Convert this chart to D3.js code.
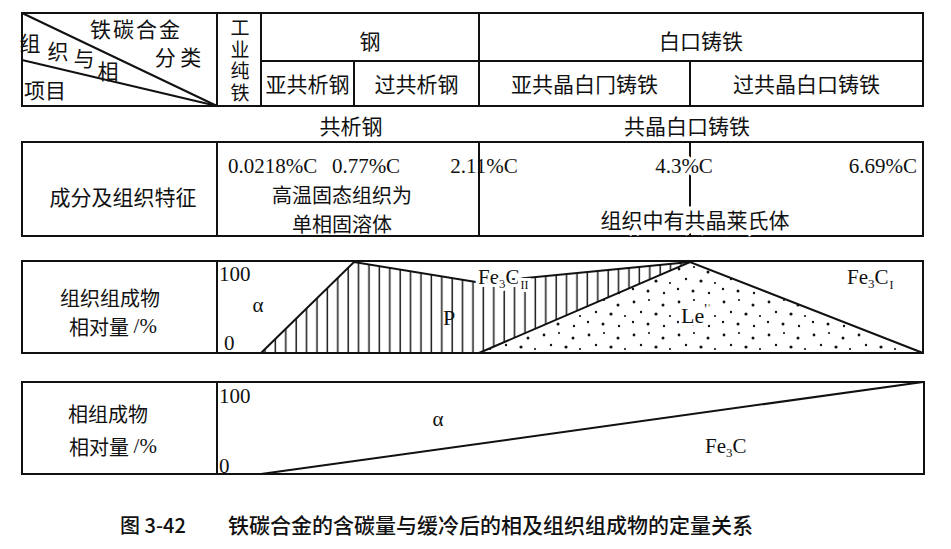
<!DOCTYPE html>
<html>
<head>
<meta charset="utf-8">
<script src="https://cdn.jsdelivr.net/npm/d3@7"></script>
<style>
  body { margin: 0; background: #fff; }
</style>
</head>
<body>
<script>
// carbon content marks (%C) used across the figure
const carbonPoints = [0.0218, 0.77, 2.11, 4.3, 6.69];
const carbonLabels = ["0.0218%C", "0.77%C", "2.11%C", "4.3%C", "6.69%C"];
const steelGroups = ["钢", "白口铸铁"];
const alloyTypes = ["亚共析钢", "过共析钢", "亚共晶白冂铸铁", "过共晶白口铸铁"];
const eutecticNames = ["共析钢", "共晶白口铸铁"];
const eutecticCarbon = [0.77, 4.3];

// relative amount of structure constituents at carbonPoints (%)
const ledeburite = [0, 0, 0, 100, 0];
const pearlite = [0, 100, 77.4, 0, 0];
const cementiteII = [0, 0, 22.6, 0, 0];
const cementiteI = [0, 0, 0, 0, 100];
const ferriteOrg = [100, 0, 0, 0, 0];

// relative amount of phases (%)
const phaseCarbon = [0.0218, 6.69];
const ferritePhase = [100, 0];
const cementitePhase = [0, 100];

const yTicks = [0, 100];

const width = 951;
const height = 549;
const left = 22;
const divX = 217;
const ink = "#111";
const CJK = "'Noto Sans CJK SC', 'Noto Sans CJK TC', sans-serif";
const SERIF = "'Liberation Serif', 'DejaVu Serif', serif";

const svg = d3
  .select("body")
  .append("svg")
  .attr("width", width)
  .attr("height", height)
  .attr("viewBox", `0 0 ${width} ${height}`);

// the figure stretches the low-carbon end, so the scale is polylinear
const x = d3
  .scaleLinear()
  .domain(carbonPoints)
  .range([261, 354, 479, 690, 923]);

const yOrg = d3.scaleLinear().domain([0, 100]).range([353, 262]);
const yPhase = d3.scaleLinear().domain([0, 100]).range([474, 382]);

// ---- patterns
const defs = svg.append("defs");

const hatch = defs
  .append("pattern")
  .attr("id", "hatch")
  .attr("patternUnits", "userSpaceOnUse")
  .attr("width", 10.4)
  .attr("height", 10);
hatch
  .append("line")
  .attr("x1", 5)
  .attr("x2", 5)
  .attr("y1", 0)
  .attr("y2", 10)
  .attr("stroke", "#1a1a1a")
  .attr("stroke-width", 1.5);

const dotTile = [
  [4, 5, 1.4], [19, 3, 1.1], [33, 8, 1.5],
  [11, 15, 1.2], [26, 17, 1.6], [40, 19, 1.1],
  [3, 25, 1.2], [18, 27, 1.5], [34, 29, 1.2],
];
const dots = defs
  .append("pattern")
  .attr("id", "dots")
  .attr("patternUnits", "userSpaceOnUse")
  .attr("width", 45)
  .attr("height", 33);
dots
  .selectAll("circle")
  .data(dotTile)
  .join("circle")
  .attr("cx", (d) => d[0])
  .attr("cy", (d) => d[1])
  .attr("r", (d) => d[2])
  .attr("fill", "#111");

// ---- helpers
const text = (g, tx, ty, str, opts = {}) =>
  g
    .append("text")
    .attr("x", tx)
    .attr("y", ty)
    .attr("font-family", opts.font || CJK)
    .attr("font-size", opts.size || 20)
    .attr("font-weight", opts.weight || 400)
    .attr("text-anchor", opts.anchor || "middle")
    .attr("dominant-baseline", opts.baseline || "central")
    .attr("fill", ink)
    .text(str);

// two-line label kept in one text element
const twoLines = (g, x1, x2, ty, first, second, gap, unit) => {
  const t = text(g, x1, ty, null, { size: 20 });
  t.append("tspan").attr("x", x1).text(first);
  const s = t.append("tspan").attr("x", x2).attr("dy", gap).text(second);
  if (unit) s.append("tspan").attr("font-family", SERIF).attr("font-size", 21).text(unit);
  return t;
};

const hline = (g, x1, x2, yy, w = 2) =>
  g.append("line").attr("x1", x1).attr("x2", x2).attr("y1", yy).attr("y2", yy)
    .attr("stroke", ink).attr("stroke-width", w);
const vline = (g, xx, y1, y2, w = 2) =>
  g.append("line").attr("x1", xx).attr("x2", xx).attr("y1", y1).attr("y2", y2)
    .attr("stroke", ink).attr("stroke-width", w);

const box = (g, x1, y1, x2, y2) =>
  g.append("rect").attr("x", x1).attr("y", y1)
    .attr("width", x2 - x1).attr("height", y2 - y1)
    .attr("fill", "none").attr("stroke", ink).attr("stroke-width", 2);

const right = x(6.69);

// ---- header table
const head = svg.append("g");
const hTop = 13, hMid = 61, hBot = 106;
box(head, left, hTop, right, hBot);
vline(head, divX, hTop, hBot);
vline(head, x(0.0218), hTop, hBot);
vline(head, x(2.11), hTop, hBot);
hline(head, x(0.0218), right, hMid);
vline(head, x(0.77), hMid, hBot);
vline(head, x(4.3), hMid, hBot);
head.append("line").attr("x1", left).attr("y1", hTop).attr("x2", divX).attr("y2", hBot)
  .attr("stroke", ink).attr("stroke-width", 2);
head.append("line").attr("x1", left).attr("y1", 60).attr("x2", divX).attr("y2", hBot)
  .attr("stroke", ink).attr("stroke-width", 2);

text(head, 136, 28, "铁碳合金", { size: 21 }).attr("letter-spacing", 2);
text(head, 178, 56, "分 类", { size: 21 });
text(head, 30, 42, "组", { size: 21 });
text(head, 58, 50, "织", { size: 21 });
text(head, 84, 57, "与", { size: 21 });
text(head, 108, 70, "相", { size: 21 });
text(head, 45, 89, "项目", { size: 21 });

// vertical caption of the pure-iron column
const ironX = (divX + x(0.0218)) / 2 + 1;
head
  .append("text")
  .attr("x", ironX)
  .attr("y", (hTop + hBot) / 2 + 2)
  .attr("font-family", CJK)
  .attr("font-size", 19)
  .attr("text-anchor", "middle")
  .attr("letter-spacing", 2.5)
  .attr("fill", ink)
  .style("writing-mode", "vertical-rl")
  .style("text-orientation", "upright")
  .text("工业纯铁");

const groupEdges = [x(0.0218), x(2.11), right];
steelGroups.forEach((s, i) =>
  text(head, (groupEdges[i] + groupEdges[i + 1]) / 2, 40, s, { size: 21 })
);
const typeEdges = carbonPoints.map((c) => x(c));
alloyTypes.forEach((s, i) =>
  text(head, (typeEdges[i] + typeEdges[i + 1]) / 2, 83, s, { size: 21 })
);

// ---- eutectoid / eutectic names
eutecticNames.forEach((s, i) =>
  text(svg, x(eutecticCarbon[i]) - 3, 125, s, { size: 21 })
);

// ---- composition box
const comp = svg.append("g");
const cTop = 142, cBot = 236;
box(comp, left, cTop, right, cBot);
vline(comp, divX, cTop, cBot);
vline(comp, x(2.11), cTop, cBot);
vline(comp, x(4.3), cTop, cBot);

text(comp, 123, 196, "成分及组织特征", { size: 21 });

const labelPlace = [
  { dx: -33, anchor: "start" },
  { dx: 12, anchor: "middle" },
  { dx: 5, anchor: "middle" },
  { dx: -6, anchor: "middle" },
  { dx: -6, anchor: "end" },
];
carbonLabels.forEach((s, i) => {
  const t = text(comp, x(carbonPoints[i]) + labelPlace[i].dx, 166, s, {
    font: SERIF,
    size: 21,
    anchor: labelPlace[i].anchor,
  });
  if (carbonPoints[i] === 4.3) {
    t.attr("stroke", "#fff").attr("stroke-width", 7).attr("paint-order", "stroke");
  }
});
twoLines(comp, 342, 342, 193.5, "高温固态组织为", "单相固溶体", 29);
text(comp, 695, 219, "组织中有共晶莱氏体", { size: 21 })
  .attr("stroke", "#fff").attr("stroke-width", 8).attr("paint-order", "stroke");

// ---- structure constituents panel
const org = svg.append("g");
const orgRows = carbonPoints.map((c, i) => ({
  c,
  le: ledeburite[i],
  p: pearlite[i],
  fe3c2: cementiteII[i],
  fe3c1: cementiteI[i],
  alpha: ferriteOrg[i],
}));
const stacked = d3.stack().keys(["le", "p", "fe3c2", "fe3c1", "alpha"])(orgRows);
const fills = { le: "url(#dots)", p: "url(#hatch)", fe3c2: "#fff", fe3c1: "#fff", alpha: "#fff" };

const area = d3
  .area()
  .x((d) => x(d.data.c))
  .y0((d) => yOrg(d[0]))
  .y1((d) => yOrg(d[1]));

org
  .selectAll("path.layer")
  .data(stacked)
  .join("path")
  .attr("class", "layer")
  .attr("d", area)
  .attr("fill", (d) => fills[d.key])
  .attr("stroke", "none");

const edge = (defined) =>
  d3
    .line()
    .defined(defined)
    .x((d) => x(d.data.c))
    .y((d) => yOrg(d[1]));

const leLayer = stacked.find((s) => s.key === "le");
const pLayer = stacked.find((s) => s.key === "p");
org.append("path")
  .attr("d", edge((d) => d.data.c <= 4.3)(pLayer))
  .attr("fill", "none").attr("stroke", ink).attr("stroke-width", 2);
org.append("path")
  .attr("d", edge((d) => d.data.c >= 2.11)(leLayer))
  .attr("fill", "none").attr("stroke", ink).attr("stroke-width", 2);

box(org, left, yOrg(100) - 1, right, yOrg(0));
vline(org, divX, yOrg(100) - 1, yOrg(0));

twoLines(org, 110, 113, 296.5, "组织组成物", "相对量 ", 29, "/%");

yTicks.forEach((v) =>
  text(org, v ? 219 : 224, v ? yOrg(v) + 19 : yOrg(v) - 3, v, {
    font: SERIF, size: 21, anchor: "start", baseline: "auto",
  })
);

const fe3cText = (g, tx, ty, sub, halo) => {
  const t = g.append("text")
    .attr("x", tx).attr("y", ty)
    .attr("font-family", SERIF).attr("font-size", 21)
    .attr("text-anchor", "start").attr("fill", ink);
  if (halo) t.attr("stroke", "#fff").attr("stroke-width", 6).attr("paint-order", "stroke");
  t.append("tspan").text("Fe");
  t.append("tspan").attr("font-size", 13).attr("dy", 4).text("3");
  t.append("tspan").attr("dy", -4).text("C");
  if (sub) t.append("tspan").attr("font-size", 12).attr("dy", 5).attr("dx", 1).text(sub);
  return t;
};

text(org, 258, 305, "α", { font: SERIF, size: 21 });
text(org, 449, 317, "P", { font: SERIF, size: 22 });
const le = text(org, 694, 315, "Le", { font: SERIF, size: 22 })
  .attr("stroke", "#fff").attr("stroke-width", 5).attr("paint-order", "stroke");
le.append("tspan").attr("font-size", 15).attr("dy", -6).text("'");
fe3cText(org, 478, 284, "II", true);
fe3cText(org, 847, 284, "I", false);

// ---- phase panel
const phase = svg.append("g");
const phaseRows = phaseCarbon.map((c, i) => ({ c, alpha: ferritePhase[i], fe3c: cementitePhase[i] }));

phase.append("path")
  .datum(phaseRows)
  .attr("d", d3.line().x((d) => x(d.c)).y((d) => yPhase(d.fe3c)))
  .attr("fill", "none").attr("stroke", ink).attr("stroke-width", 2);

box(phase, left, yPhase(100), right + 1, yPhase(0));
vline(phase, divX, yPhase(100), yPhase(0));

twoLines(phase, 108, 113, 413, "相组成物", "相对量 ", 33, "/%");

yTicks.forEach((v) =>
  text(phase, 219, v ? yPhase(v) + 21 : yPhase(v) - 1, v, {
    font: SERIF, size: 21, anchor: "start", baseline: "auto",
  })
);

text(phase, 438, 419, "α", { font: SERIF, size: 21 });
fe3cText(phase, 705, 453, null, false);

// ---- caption
text(svg, 120, 524, "图 3-42", { size: 20, weight: 500, anchor: "start" });
text(svg, 228, 524, "铁碳合金的含碳量与缓冷后的相及组织组成物的定量关系", {
  size: 21, weight: 500, anchor: "start",
});
</script>
</body>
</html>
